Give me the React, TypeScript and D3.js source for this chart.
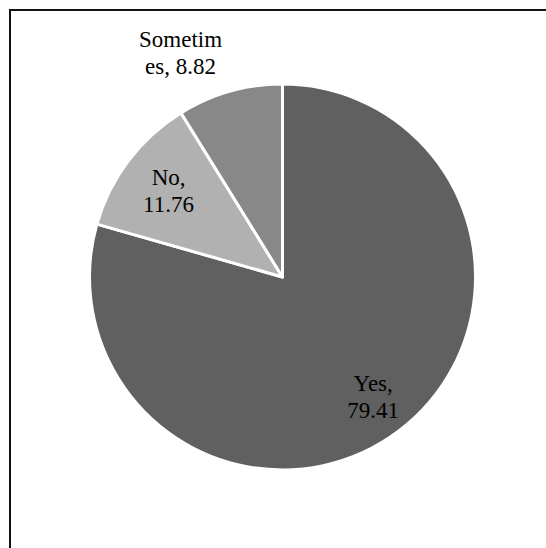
import React from "react";
import * as d3 from "d3";

// Responses and their shares (%)
const categories = ["Yes", "No", "Sometimes"];
const values = [79.41, 11.76, 8.82];
// Label text as it wraps inside the chart
const labelLines = [
  ["Yes,", "79.41"],
  ["No,", "11.76"],
  ["Sometim", "es, 8.82"],
];

const WIDTH = 546;
const HEIGHT = 548;
const CX = 282.5;
const CY = 277;
const RADIUS = 193;

const fills: Record<string, string> = {
  Yes: "#606060",
  No: "#b1b1b1",
  Sometimes: "#888888",
};

// Label placement: distance from centre (fraction of radius) and angular nudge (degrees)
const labelPlacement: Record<string, { k: number; dAngle: number }> = {
  Yes: { k: 0.78, dAngle: 0 },
  No: { k: 0.74, dAngle: 0 },
  Sometimes: { k: 1.275, dAngle: -8.6 },
};

const FONT = '"Liberation Serif", "Times New Roman", serif';

export default function App() {
  const data = categories.map((c, i) => ({ name: c, value: values[i], lines: labelLines[i] }));
  const pie = d3
    .pie<(typeof data)[number]>()
    .value((d) => d.value)
    .sort(null)
    .startAngle(0)
    .endAngle(2 * Math.PI);
  const arcs = pie(data);
  const arc = d3.arc<d3.PieArcDatum<(typeof data)[number]>>().innerRadius(0).outerRadius(RADIUS);

  const fontSize = 23;
  const lineHeight = 26.5;

  return (
    <svg
      width={WIDTH}
      height={HEIGHT}
      style={{ position: "absolute", left: 0, top: 0, background: "#fff" }}
    >
      <rect x={10} y={10} width={WIDTH + 20} height={HEIGHT + 20} fill="none" stroke="#111" strokeWidth={2} />
      <g transform={`translate(${CX},${CY})`}>
        {arcs.map((a) => (
          <path key={a.data.name} d={arc(a) || ""} fill={fills[a.data.name]} stroke="#fff" strokeWidth={3} strokeLinejoin="round" />
        ))}
        {arcs.map((a) => {
          const p = labelPlacement[a.data.name];
          const mid = (a.startAngle + a.endAngle) / 2 + (p.dAngle * Math.PI) / 180;
          const r = RADIUS * p.k;
          const x = Math.sin(mid) * r;
          const y = -Math.cos(mid) * r;
          const n = a.data.lines.length;
          return (
            <text
              key={a.data.name}
              x={x}
              y={y}
              textAnchor="middle"
              fill="#000"
              style={{ fontFamily: FONT, fontSize: `${fontSize}px` }}
            >
              {a.data.lines.map((line, i) => (
                <tspan key={i} x={x} y={y + (i - (n - 1) / 2) * lineHeight + fontSize * 0.33}>
                  {line}
                </tspan>
              ))}
            </text>
          );
        })}
      </g>
    </svg>
  );
}
